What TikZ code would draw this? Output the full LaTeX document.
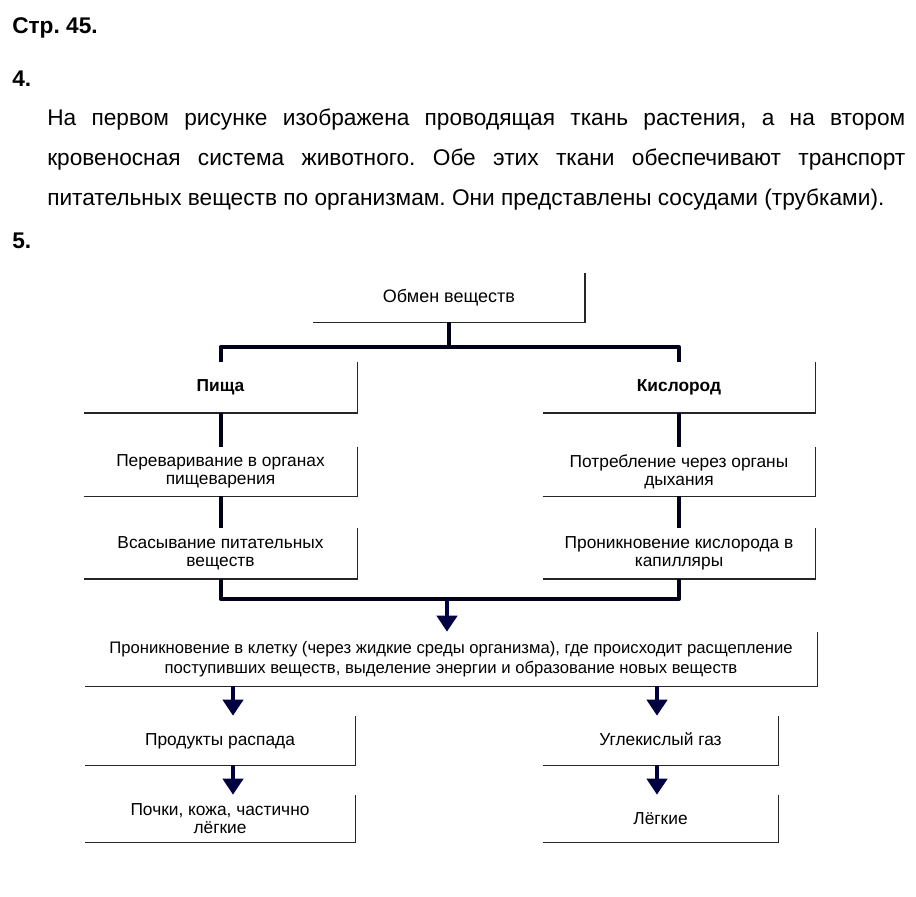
\documentclass[tikz,border=0pt]{standalone}
\usepackage{fontspec}
\setmainfont{Liberation Sans}
\usetikzlibrary{arrows.meta}
\frenchspacing

\begin{document}
\begin{tikzpicture}[x=0.75pt,y=-0.75pt,
    head/.style={font=\bfseries\fontsize{17}{20}\selectfont, anchor=base west, inner sep=0pt},
    para/.style={font=\fontsize{17}{20}\selectfont, anchor=base west, inner sep=0pt},
    box/.style={align=center, inner sep=0pt, font=\fontsize{13}{13.5}\selectfont},
    edge/.style={draw=black!85, line width=1.1pt},
    conn/.style={draw=black!90!blue, line width=3pt},
    arr/.style={draw=blue!25!black, line width=3pt, -{Triangle[width=15pt,length=12pt]}}]
  \useasboundingbox (0,0) rectangle (916,896);

  % heading and answer to task 4
  \node[head] (str) at (12,33) {Стр. 45.};
  \node[head] (n4) at (12,86) {4.};
  \node[para] (p1) at (47,125) {\makebox[643.5pt][s]{На первом рисунке изображена проводящая ткань растения, а на втором}};
  \node[para] (p2) at (47,165) {\makebox[643.5pt][s]{кровеносная система животного. Обе этих ткани обеспечивают транспорт}};
  \node[para] (p3) at (47,205) {питательных веществ по организмам. Они представлены сосудами (трубками).};
  \node[head] (n5) at (12,248) {5.};

  % scheme of task 5
  \node[box, minimum width=271*0.75pt, minimum height=49*0.75pt, font=\fontsize{13.5}{13.5}\selectfont] (obmen) at (449,297.5) {Обмен веществ};

  \node[box, minimum width=273*0.75pt, minimum height=50*0.75pt, font=\bfseries\fontsize{13}{13.5}\selectfont] (pishcha) at (220.5,387.5) {Пища};
  \node[box, minimum width=272*0.75pt, minimum height=50*0.75pt, font=\bfseries\fontsize{13}{13.5}\selectfont] (kislorod) at (679,387.5) {Кислород};

  \node[box, minimum width=273*0.75pt, minimum height=49*0.75pt] (perevar) at (220.5,471.5) {Переваривание в органах\\пищеварения};
  \node[box, minimum width=272*0.75pt, minimum height=49*0.75pt] (potreb) at (679,471.5) {Потребление через органы\\дыхания};

  \node[box, minimum width=273*0.75pt, minimum height=50*0.75pt] (vsas) at (220.5,553.5) {Всасывание питательных\\веществ};
  \node[box, minimum width=272*0.75pt, minimum height=50*0.75pt] (pronik) at (679,553.5) {Проникновение кислорода в\\капилляры};

  \node[box, minimum width=732*0.75pt, minimum height=54*0.75pt, font=\fontsize{12.5}{15}\selectfont] (kletka) at (451,659) {Проникновение в клетку (через жидкие среды организма), где происходит расщепление\\поступивших веществ, выделение энергии и образование новых веществ};

  \node[box, minimum width=270*0.75pt, minimum height=49*0.75pt] (produkt) at (220,740.5) {Продукты распада\vphantom{й}};
  \node[box, minimum width=235*0.75pt, minimum height=49*0.75pt] (uglekisl) at (660.5,740.5) {Углекислый газ\vphantom{д}};

  \node[box, minimum width=270*0.75pt, minimum height=47*0.75pt] (pochki) at (220,818.5) {Почки, кожа, частично\\лёгкие};
  \node[box, minimum width=235*0.75pt, minimum height=47*0.75pt] (legkie) at (660.5,818.5) {Лёгкие};

  % right and bottom borders of the boxes
  \foreach \n in {obmen,pishcha,kislorod,perevar,potreb,vsas,pronik,kletka,produkt,uglekisl,pochki,legkie}
    \draw[edge] (\n.north east) -- (\n.south east) -- (\n.south west);

  \coordinate (bartop) at (449,347);
  \coordinate (barbot) at (447,599);
  \coordinate (left) at (233,0);
  \coordinate (right) at (657,0);

  % connectors
  \draw[conn] (obmen.south) -- (bartop);
  \draw[conn, line join=round] (pishcha.north) -- (pishcha.north |- bartop) -- (kislorod.north |- bartop) -- (kislorod.north);
  \draw[conn] (pishcha.south) -- (perevar.north);
  \draw[conn] (kislorod.south) -- (potreb.north);
  \draw[conn] (perevar.south) -- (vsas.north);
  \draw[conn] (potreb.south) -- (pronik.north);
  \draw[conn, line join=round] (vsas.south) -- (vsas.south |- barbot) -- (pronik.south |- barbot) -- (pronik.south);

  % arrows
  \draw[arr] (barbot) -- (barbot |- kletka.north);
  \draw[arr] (kletka.south -| left) -- (produkt.north -| left);
  \draw[arr] (kletka.south -| right) -- (uglekisl.north -| right);
  \draw[arr] (produkt.south -| left) -- (pochki.north -| left);
  \draw[arr] (uglekisl.south -| right) -- (legkie.north -| right);
\end{tikzpicture}
\end{document}
